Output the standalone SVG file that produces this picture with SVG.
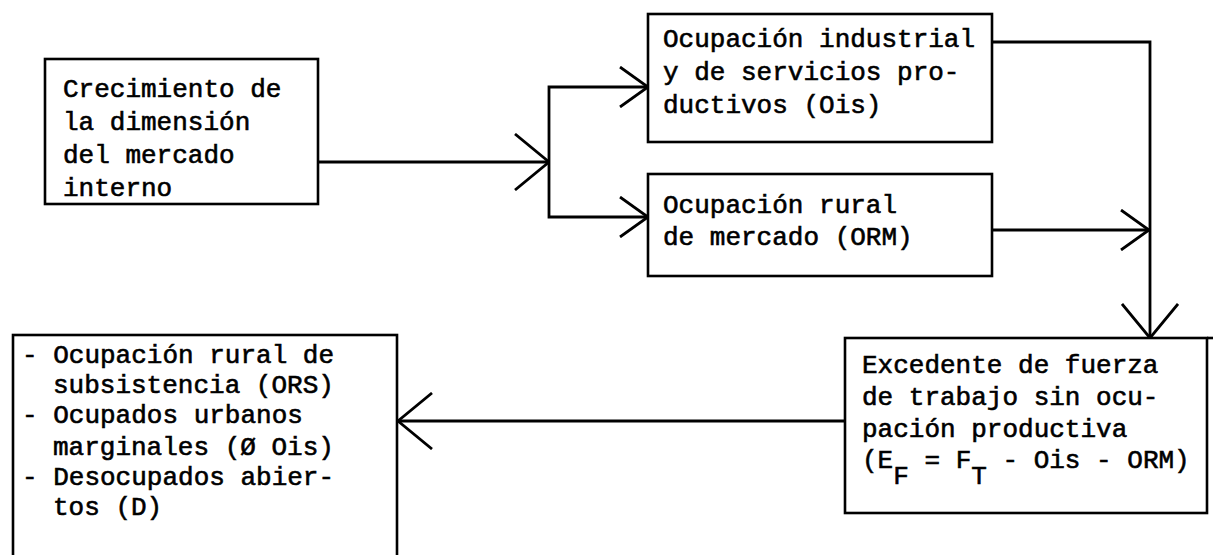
<svg xmlns="http://www.w3.org/2000/svg" width="1215" height="555" viewBox="0 0 1215 555">
  <style>
    .box { fill: none; stroke: #000; stroke-width: 2.6; }
    .txt { font-family: "Liberation Mono", "Courier New", monospace; font-size: 26px; fill: #000; stroke: #000; stroke-width: 0.6; }
    .con { fill: none; stroke: #000; stroke-width: 2.8; }
  </style>
  <defs>
    <marker id="big" viewBox="0 0 36 58" refX="35" refY="29" markerWidth="36" markerHeight="58" markerUnits="userSpaceOnUse" orient="auto">
      <path d="M1,1 L35,29 L1,57" fill="none" stroke="#000" stroke-width="2.8"/>
    </marker>
    <marker id="small" viewBox="0 0 30 42" refX="29" refY="21" markerWidth="30" markerHeight="42" markerUnits="userSpaceOnUse" orient="auto">
      <path d="M1,1 L29,21 L1,41" fill="none" stroke="#000" stroke-width="2.8"/>
    </marker>
  </defs>
  <rect width="1215" height="555" fill="#fff"/>

  <g id="connectors">
    <path class="con" d="M318,162 H549" marker-end="url(#big)"/>
    <path class="con" d="M549,162 V87 H648" marker-end="url(#small)"/>
    <path class="con" d="M549,162 V217 H648" marker-end="url(#small)"/>
    <path class="con" d="M992,42 H1150 V338" marker-end="url(#big)"/>
    <path class="con" d="M992,230 H1149" marker-end="url(#small)"/>
    <path class="con" d="M845,421 H398" marker-end="url(#big)"/>
  </g>

  <g id="crecimiento">
    <rect class="box" x="45" y="59" width="273" height="145"/>
    <text class="txt" x="63" y="97">Crecimiento de</text>
    <text class="txt" x="63" y="130">la dimensión</text>
    <text class="txt" x="63" y="163">del mercado</text>
    <text class="txt" x="63" y="196">interno</text>
  </g>

  <g id="ocupacion-industrial">
    <rect class="box" x="648" y="14" width="344" height="128"/>
    <text class="txt" x="663" y="47">Ocupación industrial</text>
    <text class="txt" x="663" y="80">y de servicios pro-</text>
    <text class="txt" x="663" y="113">ductivos (Ois)</text>
  </g>

  <g id="ocupacion-rural">
    <rect class="box" x="648" y="174" width="344" height="102"/>
    <text class="txt" x="663" y="213">Ocupación rural</text>
    <text class="txt" x="663" y="245">de mercado (ORM)</text>
  </g>

  <g id="excedente">
    <rect class="box" x="845" y="338" width="362" height="175"/>
    <path class="box" d="M1207,338 H1213"/>
    <text class="txt" x="862" y="373">Excedente de fuerza</text>
    <text class="txt" x="862" y="405">de trabajo sin ocu-</text>
    <text class="txt" x="862" y="437">pación productiva</text>
    <text class="txt" x="862" y="468">(E<tspan dy="16">F</tspan><tspan dy="-16"> = F</tspan><tspan dy="16">T</tspan><tspan dy="-16"> - Ois - ORM)</tspan></text>
  </g>

  <g id="subocupacion">
    <rect class="box" x="13" y="335" width="384" height="240"/>
    <text class="txt" x="22" y="363">- Ocupación rural de</text>
    <text class="txt" x="53" y="393">subsistencia (ORS)</text>
    <text class="txt" x="22" y="423">- Ocupados urbanos</text>
    <text class="txt" x="53" y="455">marginales (Ø Ois)</text>
    <text class="txt" x="22" y="485">- Desocupados abier-</text>
    <text class="txt" x="53" y="515">tos (D)</text>
  </g>
</svg>
